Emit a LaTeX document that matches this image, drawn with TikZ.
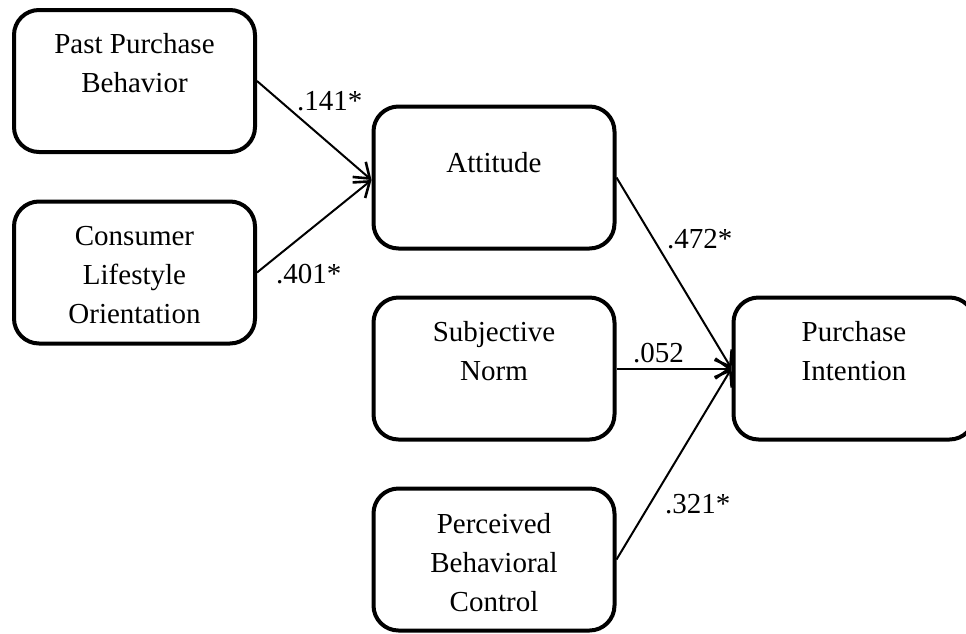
\documentclass[tikz,border=0pt]{standalone}
\usepackage{fontspec}
\setmainfont{Liberation Serif}
\usetikzlibrary{arrows.meta}
\begin{document}
\begin{tikzpicture}[x=1pt,y=-1pt,
  box/.style={draw=black, line width=4pt, rounded corners=25pt,
    minimum width=241pt, minimum height=142pt, inner sep=0pt},
  txt/.style={font=\fontsize{29}{39}\selectfont, align=center, inner sep=0pt,
    anchor=north, execute at begin node={\rule{0pt}{22pt}}},
  lbl/.style={font=\fontsize{29}{39}\selectfont, inner sep=0pt, anchor=base west},
  arr/.style={line width=2pt, -{Straight Barb[length=14pt,width=20pt,line width=2.6pt]}}
]
\useasboundingbox (0,0) rectangle (966,633);
\clip (0,0) rectangle (966,633);

% boxes
\node[box] (ppb) at (134.5,81) {};
\node[box] (clo) at (134.5,272.5) {};
\node[box] (att) at (494,177.5) {};
\node[box] (sn)  at (494,368.5) {};
\node[box] (pbc) at (494,559.5) {};
\node[box] (pi)  at (854,368.5) {};

% texts
\node[txt] (tppb) at (134.5,33) {Past Purchase\\Behavior};
\node[txt] (tclo) at (134.5,226) {Consumer\\Lifestyle\\Orientation};
\node[txt] (tatt) at (494,150) {Attitude};
\node[txt] (tsn)  at (494,321) {Subjective\\Norm};
\node[txt] (tpbc) at (494,513) {Perceived\\Behavioral\\Control};
\node[txt] (tpi)  at (854,321) {Purchase\\Intention};

% connectors
\coordinate (attin) at ([yshift=-2.5pt]att.west);
\draw[arr] (ppb.east) -- (attin);
\draw[arr] (clo.east) -- (attin);
\draw[arr] (att.east) -- (pi.west);
\draw[arr] (sn.east) -- (pi.west);
\draw[arr] (pbc.east) -- (pi.west);

% labels
\node[lbl] (l1) at (297,110) {.141*};
\node[lbl] (l2) at (276,283) {.401*};
\node[lbl] (l3) at (667,248) {.472*};
\node[lbl] (l4) at (633,362) {.052};
\node[lbl] (l5) at (665,513) {.321*};
\end{tikzpicture}
\end{document}
